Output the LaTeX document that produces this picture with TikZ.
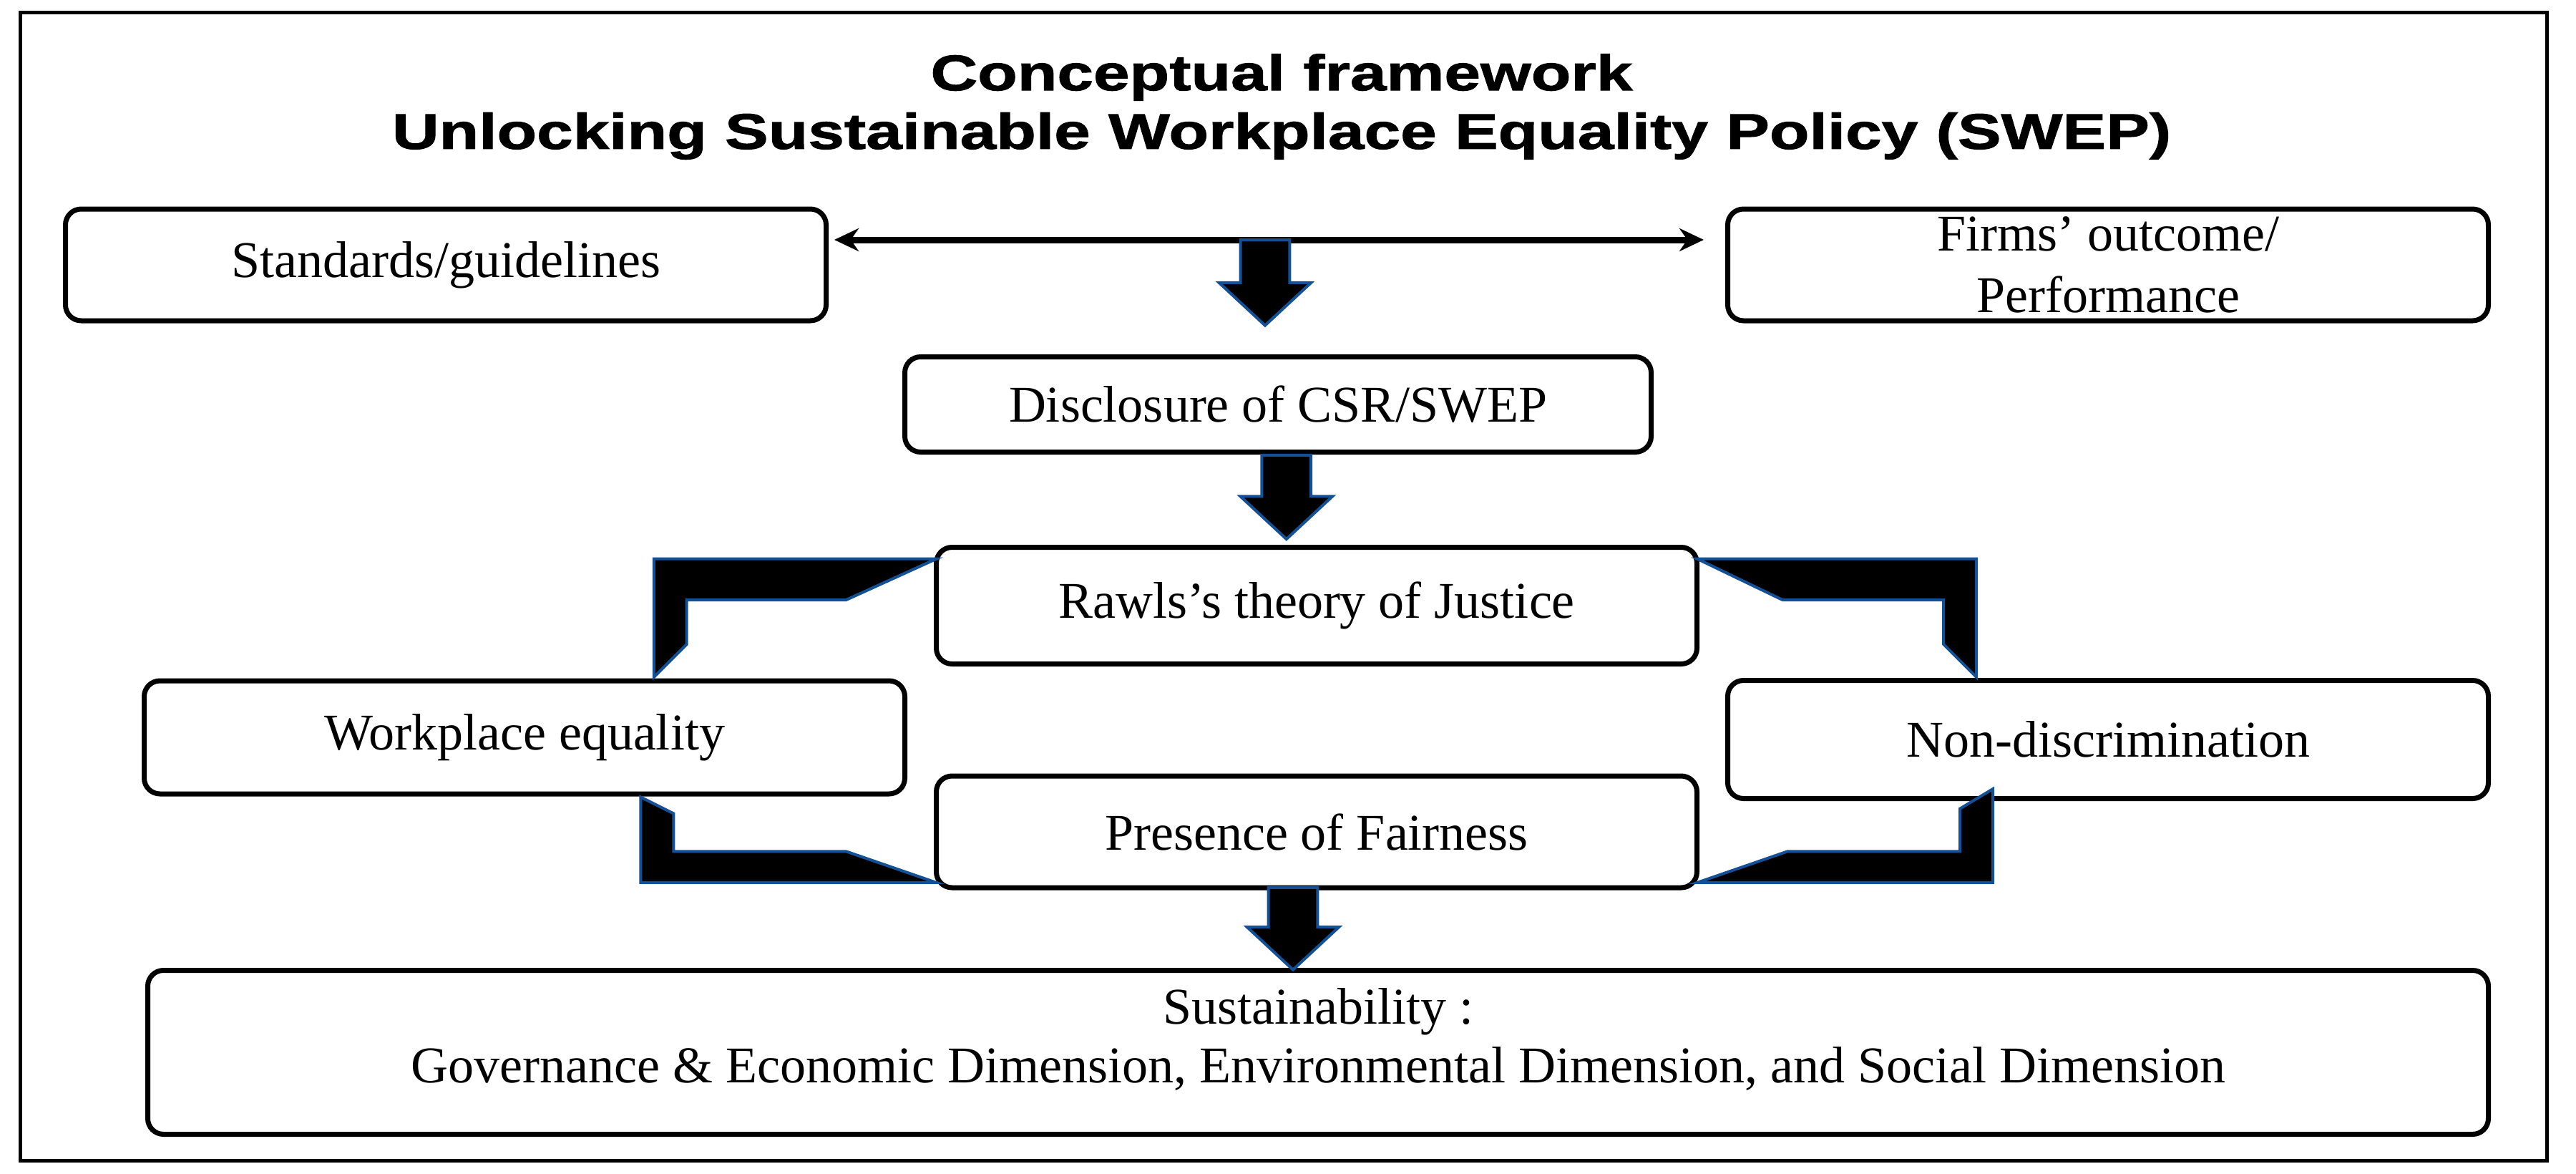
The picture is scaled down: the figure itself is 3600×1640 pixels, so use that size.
\documentclass[tikz,border=0pt]{standalone}
\usepackage{fontspec}
\usetikzlibrary{arrows.meta,calc}
\setmainfont{Liberation Serif}
\newfontfamily\titlefont[FakeStretch=1.3,FakeBold=1.5]{Liberation Sans Bold}
\definecolor{eblue}{RGB}{20,80,150}
\begin{document}
\begin{tikzpicture}[x=1pt,y=-1pt,
  box/.style={draw,line width=7pt,rounded corners=22pt,minimum width=1063pt,align=center,font=\fontsize{72}{86}\selectfont},
  blk/.style={fill=black,draw=eblue,line width=4pt,line join=miter}]
\useasboundingbox (0,0) rectangle (3600,1640);
\draw[line width=5pt] (28,18) rectangle (3559,1621);
\node (t1) at (1791,108) {\titlefont\fontsize{70}{78}\selectfont Conceptual framework};
\node (t2) at (1791,190) {\titlefont\fontsize{70}{78}\selectfont Unlocking Sustainable Workplace Equality Policy (SWEP)};
\node[box,minimum height=156pt] (std) at (623,370) {Standards/guidelines};
\node[box,minimum height=156pt,text depth=0pt] (firm) at (2946,370) {Firms' outcome/\\Performance};
\node[box,minimum width=1043pt,minimum height=133pt] (disc) at (1786,565) {Disclosure of CSR/SWEP};
\node[box,minimum height=163pt] (rawls) at (1840,846) {Rawls's theory of Justice};
\node[box,minimum height=158pt] (work) at (733,1030) {Workplace equality};
\node[box,minimum height=165pt] (nond) at (2946,1033) {Non-discrimination};
\node[box,minimum height=156pt] (pres) at (1840,1162) {Presence of Fairness};
\node[box,minimum width=3271pt,minimum height=229pt,font=\fontsize{72}{82}\selectfont] (sus) at (1842,1470) {Sustainability :\\Governance \& Economic Dimension, Environmental Dimension, and Social Dimension\\[-0.5em]};
\coordinate (da) at ($(std.east|-0,335)+(8,0)$);
\coordinate (db) at ($(firm.west|-0,335)+(-30,0)$);
\draw[line width=9pt,{Stealth[length=34pt,width=32pt]}-{Stealth[length=34pt,width=32pt]}] (da) -- (db);
\begin{scope}[x=2.296pt,y=-2.296pt]
\draw[blk] (755,146)--(785,146)--(785,172)--(798,172)--(770,198)--(742,172)--(755,172)--cycle;
\draw[blk] (768,277)--(798,277)--(798,302)--(811,302)--(783,328)--(755,302)--(768,302)--cycle;
\draw[blk] (772,540)--(802,540)--(802,564)--(815,564)--(787,590)--(759,564)--(772,564)--cycle;
\draw[blk] (570,340)--(398,340)--(398,412)--(418,392)--(418,365)--(515,365)--cycle;
\draw[blk] (1033,340)--(1203,340)--(1203,412)--(1183,392)--(1183,365)--(1085,365)--cycle;
\draw[blk] (390,485)--(390,537)--(570,537)--(515,518)--(410,518)--(410,495)--cycle;
\draw[blk] (1213,480)--(1213,537)--(1033,537)--(1088,518)--(1193,518)--(1193,492)--cycle;
\end{scope}
\end{tikzpicture}
\end{document}
